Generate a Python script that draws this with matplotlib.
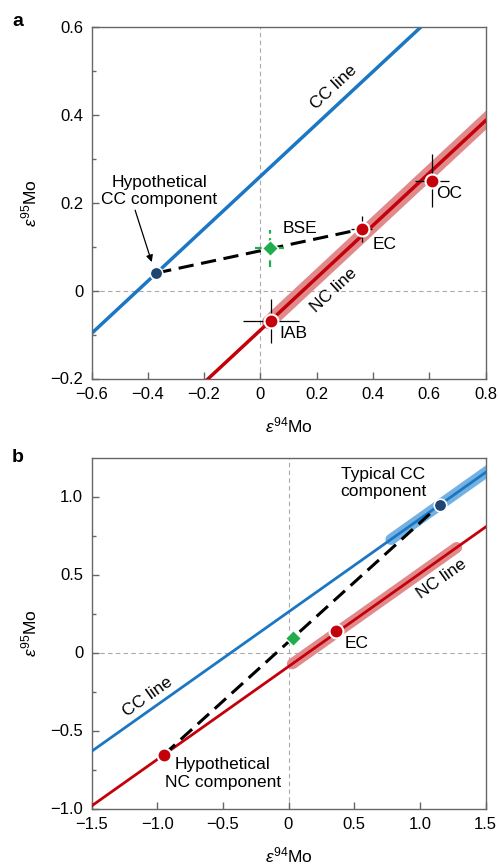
import numpy as np
import matplotlib
matplotlib.use('Agg')
import matplotlib.pyplot as plt

plt.rcParams['font.family'] = ['Liberation Sans', 'DejaVu Sans']
plt.rcParams['mathtext.fontset'] = 'custom'
plt.rcParams['mathtext.rm'] = 'Liberation Sans'
plt.rcParams['mathtext.it'] = 'Liberation Sans:italic'

# Linien: e95 = Steigung * e94 + Achsenabschnitt
SLOPE = 0.596
CC_INTERCEPT = 0.26
NC_INTERCEPT = -0.09

# Panel a: Messpunkte (x, y, xerr, yerr)
A_RED_NAMES = ['IAB', 'EC', 'OC']
A_RED_X = [0.038, 0.36, 0.61]
A_RED_Y = [-0.07, 0.14, 0.25]
A_RED_XERR = [0.10, 0.038, 0.06]
A_RED_YERR = [0.05, 0.029, 0.06]
A_BSE = (0.035, 0.096)
A_BSE_ERR = (0.053, 0.042)
A_HYP_CC = (-0.37, 0.04)

# Panel b
B_EC = (0.36, 0.14)
B_BSE = (0.033, 0.093)
B_TYP_CC = (1.15, 0.945)
B_HYP_NC = (-0.95, -0.656)

BLUE = '#1b77c3'
LIGHT_BLUE = '#74b1e3'
RED = '#c4000b'
LIGHT_RED = '#e08a8c'
DARK_BLUE = '#1f4673'
GREEN = '#1fae4b'
SPINE = '#666666'
TXT = 12.5
DASH = (0, (5, 2.5))

fig = plt.figure(figsize=(4.99, 8.66), dpi=100)
ax_a = fig.add_axes([91.5 / 499, 1 - 378.5 / 866, 394 / 499, 351.5 / 866])
ax_b = fig.add_axes([91.5 / 499, 1 - 808.5 / 866, 394 / 499, 351 / 866])


def style_axes(ax, xlim, ylim, xticks, yticks, yminor, xlabels, ylabels):
    ax.set_xlim(*xlim)
    ax.set_ylim(*ylim)
    ax.set_xticks(xticks)
    ax.set_xticklabels(xlabels)
    ax.set_yticks(yticks)
    ax.set_yticklabels(ylabels)
    ax.set_yticks(yminor, minor=True)
    ax.tick_params(direction='in', length=5, width=1, color=SPINE, labelsize=12)
    ax.tick_params(axis='x', pad=6)
    ax.tick_params(axis='y', pad=6)
    ax.tick_params(which='minor', direction='in', length=3, width=1, color=SPINE)
    for s in ax.spines.values():
        s.set_color(SPINE)
        s.set_linewidth(1)
    ax.axhline(0, color='#aaaaaa', lw=0.8, ls=(0, (4, 3)), zorder=0)
    ax.axvline(0, color='#aaaaaa', lw=0.8, ls=(0, (4, 3)), zorder=0)
    ax.set_xlabel(r'$\mathit{\varepsilon}^{94}$Mo', fontsize=12.5, labelpad=10)
    ax.set_ylabel(r'$\mathit{\varepsilon}^{95}$Mo', fontsize=12.5, labelpad=8)


def fmt(v):
    if abs(v) < 1e-9:
        return '0'
    return ('%.1f' % v).replace('-', '\u2212')


ANGLE = np.degrees(np.arctan(SLOPE))

# ------------------------------------------------------------------ Panel a
ax = ax_a
xt = np.arange(-0.6, 0.81, 0.2)
yt = np.arange(-0.2, 0.61, 0.2)
style_axes(ax, (-0.6, 0.8), (-0.2, 0.6), xt, yt, np.arange(-0.1, 0.6, 0.2),
           [fmt(v) for v in xt], [fmt(v) for v in yt])

xx = np.array([-0.6, 0.8])
ax.plot(xx, SLOPE * xx + CC_INTERCEPT, color=BLUE, lw=2.5, zorder=2)
ax.plot(xx, SLOPE * xx + NC_INTERCEPT, color=RED, lw=2.5, zorder=3)
xb = np.array([0.03, 0.85])
ax.plot(xb, SLOPE * xb + NC_INTERCEPT, color=LIGHT_RED, lw=10, solid_capstyle='round', zorder=2)

ax.plot([A_HYP_CC[0], A_RED_X[1]], [A_HYP_CC[1], A_RED_Y[1]], color='black', lw=2.2,
        ls=DASH, zorder=4)

for x, y, xe, ye in zip(A_RED_X, A_RED_Y, A_RED_XERR, A_RED_YERR):
    ax.errorbar(x, y, xerr=xe, yerr=ye, fmt='none', ecolor='black', elinewidth=0.9, capsize=0, zorder=4)
bse_err = ax.errorbar(A_BSE[0], A_BSE[1], xerr=A_BSE_ERR[0], yerr=A_BSE_ERR[1], fmt='none',
                      ecolor=GREEN, elinewidth=1.6, capsize=0, zorder=4)
for coll in bse_err[2]:
    coll.set_linestyle((0, (3, 2)))
ax.plot(A_RED_X, A_RED_Y, 'o', color=RED, ms=10, mec='white', mew=1.5, ls='none', zorder=5)
ax.plot(*A_HYP_CC, 'o', color=DARK_BLUE, ms=9, mec='white', mew=1.2, zorder=5)
ax.plot(*A_BSE, 'D', color=GREEN, ms=8, mec='white', mew=1.0, zorder=5)

ax.text(0.26, 0.463, 'CC line', fontsize=TXT, rotation=ANGLE,
        transform_rotates_text=True, ha='center', va='center', rotation_mode='anchor')
ax.text(0.26, 0.0, 'NC line', fontsize=TXT, rotation=ANGLE,
        transform_rotates_text=True, ha='center', va='center', rotation_mode='anchor')
ax.text(0.08, 0.141, 'BSE', fontsize=TXT, ha='left', va='center')
ax.text(0.40, 0.106, 'EC', fontsize=TXT, ha='left', va='center')
ax.text(0.625, 0.222, 'OC', fontsize=TXT, ha='left', va='center')
ax.text(0.068, -0.098, 'IAB', fontsize=TXT, ha='left', va='center')
ax.text(-0.36, 0.226, 'Hypothetical\nCC component', fontsize=TXT, ha='center', va='center',
        linespacing=1.15)
ax.annotate('', xy=(-0.386, 0.065), xytext=(-0.445, 0.183),
            arrowprops=dict(arrowstyle='-|>', color='black', lw=0.9, mutation_scale=10,
                            shrinkA=0, shrinkB=0))

# ------------------------------------------------------------------ Panel b
ax = ax_b
xt = np.arange(-1.5, 1.51, 0.5)
yt = np.arange(-1.0, 1.01, 0.5)
style_axes(ax, (-1.5, 1.5), (-1.0, 1.25), xt, yt, np.arange(-0.75, 1.25, 0.5),
           [fmt(v) for v in xt], [fmt(v) for v in yt])

xx = np.array([-1.5, 1.5])
xcb = np.array([0.78, 1.6])
ax.plot(xcb, SLOPE * xcb + CC_INTERCEPT, color=LIGHT_BLUE, lw=8, solid_capstyle='round', zorder=2)
xnb = np.array([0.03, 1.28])
ax.plot(xnb, SLOPE * xnb + NC_INTERCEPT, color=LIGHT_RED, lw=8, solid_capstyle='round', zorder=2)
ax.plot(xx, SLOPE * xx + CC_INTERCEPT, color=BLUE, lw=2, zorder=3)
ax.plot(xx, SLOPE * xx + NC_INTERCEPT, color=RED, lw=2, zorder=3)

ax.plot([B_HYP_NC[0], B_TYP_CC[0]], [B_HYP_NC[1], B_TYP_CC[1]], color='black', lw=2.2,
        ls=DASH, zorder=4)
ax.plot(*B_EC, 'o', color=RED, ms=10, mec='white', mew=1.5, zorder=5)
ax.plot(*B_HYP_NC, 'o', color=RED, ms=10, mec='white', mew=1.5, zorder=5)
ax.plot(*B_TYP_CC, 'o', color=DARK_BLUE, ms=9, mec='white', mew=1.2, zorder=5)
ax.plot(*B_BSE, 'D', color=GREEN, ms=8, mec='white', mew=1.0, zorder=5)

ax.text(-1.07, -0.283, 'CC line', fontsize=TXT, rotation=ANGLE,
        transform_rotates_text=True, ha='center', va='center', rotation_mode='anchor')
ax.text(1.17, 0.47, 'NC line', fontsize=TXT, rotation=ANGLE,
        transform_rotates_text=True, ha='center', va='center', rotation_mode='anchor')
ax.text(0.43, 0.055, 'EC', fontsize=TXT, ha='left', va='center')
ax.text(0.72, 1.085, 'Typical CC\ncomponent', fontsize=TXT, ha='center', va='center', linespacing=1.2)
ax.text(-0.5, -0.775, 'Hypothetical\nNC component', fontsize=TXT, ha='center', va='center',
        linespacing=1.2)

fig.text(12 / 499, 1 - 21 / 866, 'a', fontsize=14, fontweight='bold', ha='left', va='center')
fig.text(12 / 499, 1 - 458 / 866, 'b', fontsize=14, fontweight='bold', ha='left', va='center')

fig.savefig('out.png', dpi=100)
